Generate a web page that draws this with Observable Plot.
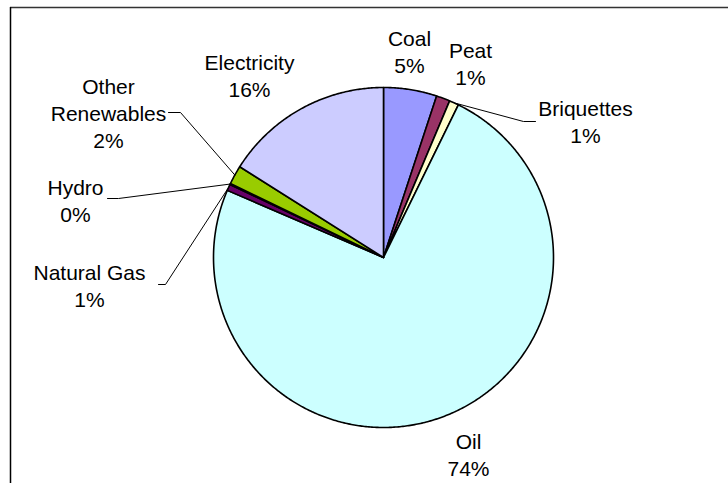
<!DOCTYPE html>
<html><head><meta charset="utf-8">
<script src="https://cdn.jsdelivr.net/npm/d3@7"></script>
<script src="https://cdn.jsdelivr.net/npm/@observablehq/plot@0.6"></script>
<style>html,body{margin:0;padding:0;background:#fff;overflow:hidden}#chart svg{display:block}</style>
</head><body><div id="chart"></div>
<script>
// ---- data ----
const categories = ["Coal","Peat","Briquettes","Oil","Natural Gas","Hydro","Other Renewables","Electricity"];
const shares = [5.06, 1.3, 0.9, 74.2, 0.6, 0.1, 1.8, 16.04];
const percentLabels = ["5%","1%","1%","74%","1%","0%","2%","16%"];
const labelNames = ["Coal","Peat","Briquettes","Oil","Natural Gas","Hydro","Other\nRenewables","Electricity"];
const sliceColors = ["#9999FF","#993366","#FFFFCC","#CCFFFF","#660066","#FF8080","#99CC00","#CCCCFF"];

// ---- layout (pixels) ----
const W = 728, H = 483, CX = 383, CY = 257, R = 170;
const labelPos = {
  "Coal": [409, 50], "Peat": [470, 62], "Briquettes": [585, 120], "Oil": [468, 453],
  "Natural Gas": [89, 284], "Hydro": [75, 199], "Other Renewables": [108, 112], "Electricity": [249, 74]
};
const leaderPts = {
  "Briquettes": [[523, 121], [535, 121]],
  "Other Renewables": [[180, 112], [168, 112]],
  "Hydro": [[118, 198], [107, 198]],
  "Natural Gas": [[165, 284], [158, 284]]
};
const borderLeft = 10, borderTop = 7;
const toU = ([px, py]) => [(px - CX) / R, (CY - py) / R];

const rows = categories.map((c, i) => ({name: c, share: shares[i], pct: percentLabels[i], label: labelNames[i]}));
const arcs = d3.pie().sort(null).value(d => d.share)(rows);

const slicePts = [];
for (const a of arcs) {
  const n = Math.max(2, Math.ceil((a.endAngle - a.startAngle) / (Math.PI / 360)));
  slicePts.push({name: a.data.name, x: 0, y: 0});
  for (let k = 0; k <= n; k++) {
    const t = a.startAngle + (a.endAngle - a.startAngle) * k / n;
    slicePts.push({name: a.data.name, x: Math.sin(t), y: Math.cos(t)});
  }
  slicePts.push({name: a.data.name, x: 0, y: 0});
}

const leaderLines = [];
for (const a of arcs) {
  const pts = leaderPts[a.data.name];
  if (!pts) continue;
  const m = (a.startAngle + a.endAngle) / 2;
  leaderLines.push({name: a.data.name, x: Math.sin(m), y: Math.cos(m)});
  for (const p of pts) { const [ux, uy] = toU(p); leaderLines.push({name: a.data.name, x: ux, y: uy}); }
}

const labels = rows.map(d => {
  const [ux, uy] = toU(labelPos[d.name]);
  return {x: ux, y: uy, text: d.label + "\n" + d.pct};
});

const [bx, by] = toU([borderLeft, borderTop]);
const [xMax, yMin] = toU([W + 5, H + 5]);

const chart = Plot.plot({
  width: W, height: H, margin: 0,
  style: {background: "#fff", overflow: "hidden"},
  x: {domain: [(0 - CX) / R, (W - CX) / R], range: [0, W], axis: null},
  y: {domain: [(CY - H) / R, CY / R], range: [H, 0], axis: null},
  color: {domain: categories, range: sliceColors},
  marks: [
    Plot.ruleY([by], {x1: bx, x2: xMax, stroke: "#333", strokeWidth: 1.5}),
    Plot.ruleX([bx], {y1: by, y2: yMin, stroke: "#000", strokeWidth: 1.5}),
    Plot.line(slicePts, {x: "x", y: "y", z: "name", fill: "name", stroke: "#000", strokeWidth: 1.6, strokeLinejoin: "round"}),
    Plot.line(leaderLines, {x: "x", y: "y", z: "name", stroke: "#000", strokeWidth: 1}),
    Plot.text(labels, {x: "x", y: "y", text: "text", fontSize: 21, lineHeight: 1.29, lineAnchor: "middle",
      fontFamily: "'Liberation Sans', Arial, sans-serif", fill: "#000"})
  ]
});
document.getElementById("chart").appendChild(chart);
</script>
</body></html>
